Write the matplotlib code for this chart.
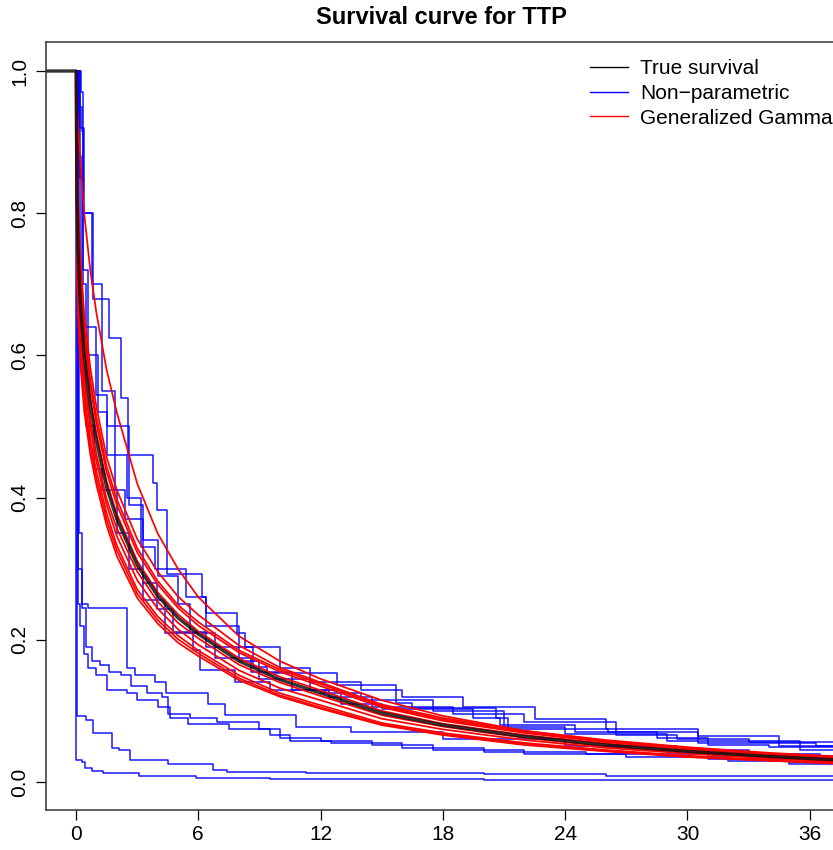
import matplotlib
matplotlib.use("Agg")
import matplotlib.pyplot as plt
from matplotlib.lines import Line2D

plt.rcParams['font.family'] = ['Liberation Sans', 'DejaVu Sans']

# ---------------- data ----------------
grid_t = [0, 0.05, 0.1, 0.2, 0.4, 0.7, 1, 1.5, 2, 3, 4, 5, 6, 8, 10, 12, 15, 18, 22, 26, 30, 34, 38]

true_t = [-2] + grid_t
true_s = [1.0, 1.0, 0.82, 0.75, 0.68, 0.60, 0.53, 0.48, 0.415, 0.37, 0.305, 0.262, 0.231, 0.208,
          0.170, 0.144, 0.125, 0.097, 0.080, 0.064, 0.052, 0.043, 0.036, 0.030]

gg1 = [1.0, 0.95, 0.92, 0.88, 0.80, 0.72, 0.66, 0.58, 0.52, 0.42, 0.35, 0.30, 0.26, 0.205, 0.17, 0.145, 0.115, 0.093, 0.072, 0.059, 0.049, 0.041, 0.035]
gg2 = [1.0, 0.713, 0.653, 0.592, 0.522, 0.461, 0.418, 0.361, 0.318, 0.259, 0.223, 0.196, 0.177, 0.143, 0.120, 0.103, 0.080, 0.066, 0.052, 0.043, 0.035, 0.030, 0.025]
gg3 = [1.0, 0.730, 0.668, 0.605, 0.534, 0.472, 0.427, 0.369, 0.326, 0.265, 0.228, 0.201, 0.181, 0.146, 0.122, 0.105, 0.081, 0.067, 0.054, 0.044, 0.036, 0.030, 0.025]
gg4 = [1.0, 0.746, 0.683, 0.619, 0.546, 0.482, 0.437, 0.378, 0.333, 0.271, 0.233, 0.206, 0.185, 0.150, 0.125, 0.108, 0.083, 0.069, 0.055, 0.045, 0.037, 0.031, 0.026]
gg5 = [1.0, 0.771, 0.705, 0.639, 0.564, 0.498, 0.451, 0.390, 0.346, 0.284, 0.244, 0.215, 0.193, 0.157, 0.132, 0.115, 0.089, 0.074, 0.059, 0.048, 0.040, 0.033, 0.028]
gg6 = [1.0, 0.787, 0.720, 0.653, 0.576, 0.509, 0.461, 0.398, 0.357, 0.296, 0.254, 0.224, 0.202, 0.165, 0.140, 0.121, 0.094, 0.078, 0.062, 0.050, 0.042, 0.035, 0.029]
gg7 = [1.0, 0.836, 0.765, 0.694, 0.612, 0.541, 0.490, 0.423, 0.377, 0.311, 0.267, 0.236, 0.212, 0.174, 0.148, 0.129, 0.100, 0.082, 0.066, 0.054, 0.044, 0.037, 0.031]
gg8 = [1.0, 0.861, 0.788, 0.714, 0.630, 0.557, 0.504, 0.436, 0.390, 0.323, 0.278, 0.245, 0.220, 0.182, 0.155, 0.135, 0.105, 0.086, 0.069, 0.056, 0.046, 0.039, 0.032]
gg9 = [1.0, 0.877, 0.803, 0.728, 0.642, 0.567, 0.514, 0.444, 0.398, 0.329, 0.283, 0.249, 0.225, 0.185, 0.158, 0.138, 0.107, 0.088, 0.070, 0.057, 0.047, 0.040, 0.033]
gg10 = [1.0, 0.902, 0.825, 0.748, 0.660, 0.583, 0.528, 0.457, 0.411, 0.342, 0.296, 0.261, 0.235, 0.192, 0.161, 0.140, 0.109, 0.090, 0.072, 0.058, 0.048, 0.040, 0.034]
gg_curves = [gg1, gg2, gg3, gg4, gg5, gg6, gg7, gg8, gg9, gg10]

# Kaplan-Meier step curves: event times and survival after each time
km1_t = [0, 0.12, 0.3, 0.33, 0.85, 1.63, 2.2, 2.57, 3.8, 3.96, 4.45, 6.17, 6.4, 7.9, 8.3, 8.7, 9.36, 12.8, 15.7, 16.5, 20.6, 21.2, 26.1, 30.5, 36.3, 40]
km1_s = [1.0, 0.95, 0.915, 0.80, 0.68, 0.625, 0.54, 0.46, 0.42, 0.383, 0.293, 0.26, 0.237, 0.21, 0.19, 0.162, 0.153, 0.136, 0.111, 0.104, 0.09, 0.075, 0.071, 0.055, 0.05, 0.05]
km2_t = [0, 0.25, 0.35, 0.6, 1.1, 1.5, 1.9, 2.4, 3.3, 4.37, 5.76, 6.08, 7.8, 9.5, 12.4, 14.5, 18.5, 22.0, 26.5, 29.5, 33.0, 40]
km2_s = [1.0, 0.97, 0.72, 0.60, 0.52, 0.46, 0.41, 0.37, 0.256, 0.209, 0.186, 0.157, 0.141, 0.13, 0.12, 0.105, 0.095, 0.085, 0.066, 0.06, 0.056, 0.056]
km3_t = [0, 0.1, 0.25, 0.5, 0.9, 1.3, 2.0, 2.6, 3.3, 3.96, 4.77, 6.4, 8.0, 9.0, 11.5, 13.0, 15.0, 19.5, 20.8, 24.5, 28.5, 31.0, 34.0, 40]
km3_s = [1.0, 0.88, 0.60, 0.50, 0.44, 0.41, 0.35, 0.30, 0.28, 0.244, 0.211, 0.19, 0.17, 0.145, 0.13, 0.11, 0.103, 0.09, 0.08, 0.07, 0.062, 0.052, 0.049, 0.049]
km4_t = [0, 0.2, 0.35, 0.5, 1.0, 1.5, 2.6, 3.3, 4.0, 5.0, 5.6, 6.8, 8.6, 10.6, 12.0, 14.0, 17.5, 21.0, 24.0, 29.0, 35.5, 40]
km4_s = [1.0, 0.85, 0.70, 0.64, 0.545, 0.50, 0.39, 0.34, 0.29, 0.25, 0.21, 0.175, 0.155, 0.13, 0.125, 0.115, 0.1, 0.078, 0.068, 0.057, 0.045, 0.045]
km5_t = [0, 0.2, 0.4, 0.8, 1.3, 1.9, 2.5, 3.2, 3.9, 5.4, 6.4, 8.0, 10.0, 11.5, 14.0, 16.0, 19.0, 22.5, 26.0, 30.5, 34.5, 40]
km5_s = [1.0, 0.92, 0.80, 0.70, 0.55, 0.46, 0.40, 0.33, 0.30, 0.26, 0.22, 0.19, 0.16, 0.14, 0.13, 0.12, 0.105, 0.088, 0.074, 0.064, 0.05, 0.05]
km6_t = [0, 0.15, 0.3, 0.6, 2.49, 2.9, 3.9, 4.4, 6.5, 7.3, 10.8, 13.5, 18.0, 24.0, 29.5, 33.0, 36.5, 40]
km6_s = [1.0, 0.35, 0.25, 0.245, 0.16, 0.15, 0.14, 0.125, 0.11, 0.094, 0.078, 0.07, 0.06, 0.05, 0.045, 0.04, 0.037, 0.037]
km7_t = [0, 0.1, 0.3, 0.5, 0.8, 1.2, 1.6, 2.2, 2.7, 3.5, 4.2, 4.5, 5.6, 6.9, 9.0, 10.0, 12.0, 14.5, 17.5, 22.0, 27.0, 32.0, 35.0, 40]
km7_s = [1.0, 0.30, 0.245, 0.19, 0.17, 0.165, 0.155, 0.15, 0.135, 0.125, 0.12, 0.095, 0.09, 0.085, 0.075, 0.062, 0.058, 0.052, 0.045, 0.04, 0.035, 0.03, 0.025, 0.025]
km8_t = [0, 0.08, 0.2, 0.4, 0.6, 1.0, 1.5, 2.5, 3.0, 4.0, 4.6, 5.5, 7.5, 9.5, 10.5, 12.5, 16.0, 20.0, 25.0, 31.0, 35.0, 40]
km8_s = [1.0, 0.25, 0.22, 0.18, 0.16, 0.15, 0.13, 0.125, 0.115, 0.105, 0.09, 0.082, 0.075, 0.066, 0.057, 0.055, 0.048, 0.042, 0.04, 0.032, 0.028, 0.028]
km9_t = [0, 0.03, 0.49, 0.85, 1.75, 2.1, 2.65, 4.5, 6.7, 7.4, 11.3, 20, 26, 31, 40]
km9_s = [1.0, 0.093, 0.087, 0.069, 0.048, 0.045, 0.031, 0.026, 0.017, 0.0145, 0.012, 0.011, 0.009, 0.008, 0.008]
km10_t = [0, 0.02, 0.28, 0.44, 0.8, 1.34, 3.1, 5.9, 9.5, 20, 40]
km10_s = [1.0, 0.031, 0.028, 0.02, 0.016, 0.013, 0.0085, 0.005, 0.004, 0.003, 0.003]
km_curves = [(km1_t, km1_s), (km2_t, km2_s), (km3_t, km3_s), (km4_t, km4_s), (km5_t, km5_s),
             (km6_t, km6_s), (km7_t, km7_s), (km8_t, km8_s), (km9_t, km9_s), (km10_t, km10_s)]

x_ticks = [0, 6, 12, 18, 24, 30, 36]
y_ticks = [0.0, 0.2, 0.4, 0.6, 0.8, 1.0]
y_tick_labels = ["0.0", "0.2", "0.4", "0.6", "0.8", "1.0"]
title = "Survival curve for TTP"
legend_labels = ["True survival", "Non\u2212parametric", "Generalized Gamma"]

# ---------------- figure ----------------
W, H = 833, 850
fig = plt.figure(figsize=(W / 100, H / 100), dpi=100)
ax = fig.add_axes([46 / W, 1 - 810 / H, (834 - 46) / W, (810 - 42) / H])

for t, s in km_curves:
    ax.step(t, s, where='post', color='#0000FF', lw=1.1, alpha=0.9)
for g in gg_curves:
    ax.plot(grid_t, g, color='#FF0000', lw=1.25)
ax.plot(true_t, true_s, color='#111111', lw=2.4, alpha=0.85, solid_joinstyle='round')

ax.set_xlim(-1.472, 37.19)
ax.set_ylim(-0.0394, 1.0408)
ax.set_xticks(x_ticks)
ax.set_xticklabels([str(v) for v in x_ticks])
ax.set_yticks(y_ticks)
ax.set_yticklabels(y_tick_labels, rotation=90, va='center')
ax.tick_params(axis='both', direction='out', length=7, width=0.9, labelsize=15, colors='black')
ax.tick_params(axis='x', pad=4)
ax.tick_params(axis='y', pad=5)
for side in ['left', 'bottom', 'top']:
    ax.spines[side].set_linewidth(1.1)
    ax.spines[side].set_color('#333333')
ax.spines['right'].set_visible(False)

fig.text(441 / W, 1 - 17 / H, title, ha='center', va='center', fontsize=17, fontweight='bold')

handles = [Line2D([], [], color='black', lw=1.0),
           Line2D([], [], color='#0000FF', lw=1.0),
           Line2D([], [], color='#FF0000', lw=1.0)]
leg = fig.legend(handles, legend_labels, loc='upper left', bbox_to_anchor=(590 / W, 1 - 59 / H),
                 frameon=False, fontsize=15, handlelength=1.83, handletextpad=0.58,
                 labelspacing=0.28, borderpad=0, borderaxespad=0)

fig.savefig("out.png", dpi=100)
